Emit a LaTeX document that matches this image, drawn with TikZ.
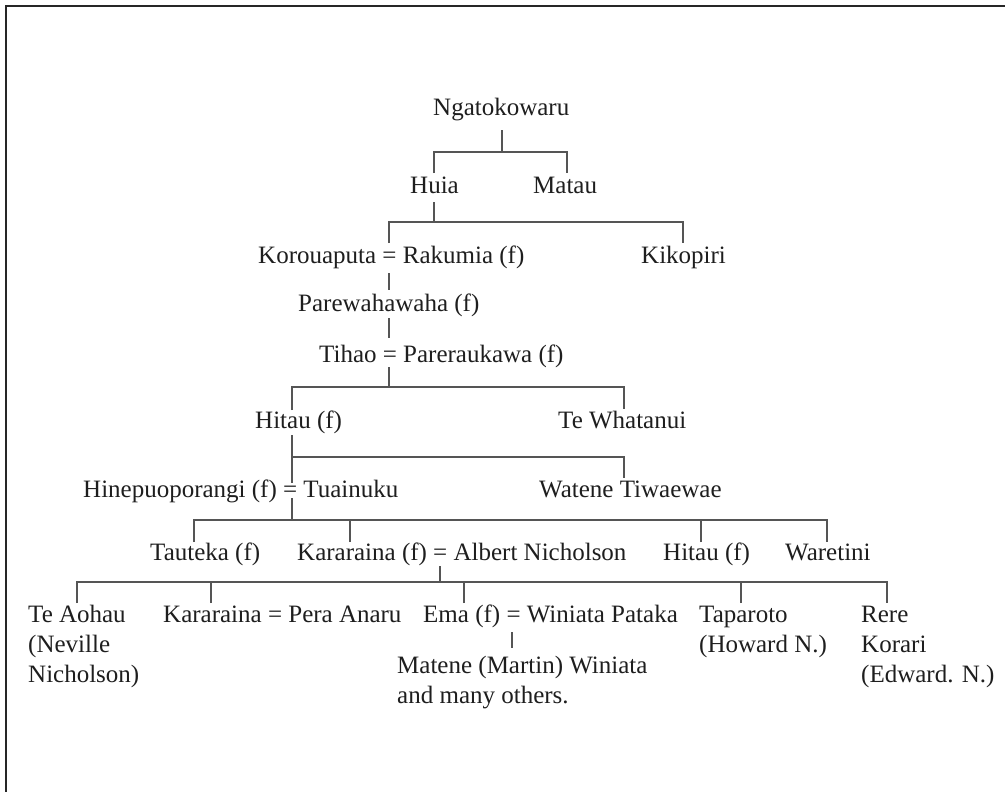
\documentclass[tikz,border=0pt]{standalone}
\usepackage{fontspec}
\setmainfont{Liberation Serif}
\definecolor{inkc}{HTML}{1E1E1E}
\definecolor{kinc}{HTML}{555555}
\begin{document}
\begin{tikzpicture}[x=1pt,y=-1pt,
  person/.style={anchor=base west,inner sep=0pt,text=inkc,
    font=\fontsize{25}{30}\selectfont,align=left},
  kin/.style={draw=kinc,line width=2pt},
  frameline/.style={draw=black!85,line width=2.3pt}]
\useasboundingbox (0,0) rectangle (1005,792);
% frame along the top and left edges
\draw[frameline] (1005,6.2) -- (6.2,6.2) -- (6.2,792);

% people (multi-line entries are placed by the baseline of their last line)
\node[person] (ngato)   at (433,115) {Ngatokowaru};
\node[person] (huia)    at (410,193) {Huia};
\node[person] (matau)   at (533,193) {Matau};
\node[person] (koro)    at (258,263) {Korouaputa = Rakumia (f)};
\node[person] (kiko)    at (641,263) {Kikopiri};
\node[person] (pare)    at (298,311) {Parewahawaha (f)};
\node[person] (tihao)   at (319,362) {Tihao = Pareraukawa (f)};
\node[person] (hitaua)  at (255,428) {Hitau (f)};
\node[person] (whata)   at (558,428) {Te Whatanui};
\node[person] (hine)    at (83,497)  {Hinepuoporangi (f) = Tuainuku};
\node[person] (watene)  at (539,497) {Watene Tiwaewae};
\node[person] (taut)    at (150,560) {Tauteka (f)};
\node[person] (karaa)   at (297,560) {Kararaina (f) = Albert Nicholson};
\node[person] (hitaub)  at (663,560) {Hitau (f)};
\node[person] (waret)   at (785,560) {Waretini};
\node[person] (aohau)   at (28,682)  {Te Aohau\\(Neville\\Nicholson)};
\node[person] (karab)   at (163,622) {Kararaina = Pera Anaru};
\node[person] (ema)     at (423,622) {Ema (f) = Winiata Pataka};
\node[person] (tapar)   at (699,652) {Taparoto\\(Howard N.)};
\node[person] (rere)    at (861,682) {Rere\\Korari\\(Edward. N.)};
\node[person] (matene)  at (397,703) {Matene (Martin) Winiata\\and many others.};

% connector ends
\coordinate (ngato-out) at (502,130);  \coordinate (bar1) at (502,152);
\coordinate (huia-in)   at (434,173);  \coordinate (matau-in) at (567,173);
\coordinate (huia-out)  at (434,202);  \coordinate (bar2) at (434,222);
\coordinate (koro-in)   at (389,243);  \coordinate (kiko-in)  at (683,243);
\coordinate (koro-out)  at (389,273);  \coordinate (pare-in)  at (389,290);
\coordinate (pare-out)  at (389,318);  \coordinate (tihao-in) at (389,338);
\coordinate (tihao-out) at (389,367);  \coordinate (bar3) at (389,387);
\coordinate (hitaua-in) at (292,410);  \coordinate (whata-in) at (624,409);
\coordinate (hitaua-out) at (292,435); \coordinate (bar4) at (292,457);
\coordinate (hine-in)   at (292,483);  \coordinate (watene-in) at (624,478);
\coordinate (hine-out)  at (292,498);  \coordinate (bar5) at (292,520);
\coordinate (taut-in)   at (194,542);  \coordinate (karaa-in) at (350,542);
\coordinate (hitaub-in) at (701,542);  \coordinate (waret-in) at (827,542);
\coordinate (karaa-out) at (440,566);  \coordinate (bar6) at (440,582);
\coordinate (aohau-in)  at (77,603);   \coordinate (karab-in) at (211,603);
\coordinate (ema-in)    at (464,603);  \coordinate (tapar-in) at (741,603);
\coordinate (rere-in)   at (887,603);
\coordinate (ema-out)   at (512,632);  \coordinate (matene-in) at (512,648);

% descent lines
\draw[kin] (ngato-out) -- (bar1);
\draw[kin] (huia-in) |- (bar1) -| (matau-in);
\draw[kin] (huia-out) -- (bar2);
\draw[kin] (koro-in) |- (bar2) -| (kiko-in);
\draw[kin] (koro-out) -- (pare-in);
\draw[kin] (pare-out) -- (tihao-in);
\draw[kin] (tihao-out) -- (bar3);
\draw[kin] (hitaua-in) |- (bar3) -| (whata-in);
\draw[kin] (hitaua-out) -- (hine-in);
\draw[kin] (bar4) -| (watene-in);
\draw[kin] (hine-out) -- (bar5);
\draw[kin] (taut-in) |- (bar5) -| (waret-in);
\draw[kin] (karaa-in) -- (karaa-in |- bar5);
\draw[kin] (hitaub-in) -- (hitaub-in |- bar5);
\draw[kin] (karaa-out) -- (bar6);
\draw[kin] (aohau-in) |- (bar6) -| (rere-in);
\draw[kin] (karab-in) -- (karab-in |- bar6);
\draw[kin] (ema-in) -- (ema-in |- bar6);
\draw[kin] (tapar-in) -- (tapar-in |- bar6);
\draw[kin] (ema-out) -- (matene-in);
\end{tikzpicture}
\end{document}
